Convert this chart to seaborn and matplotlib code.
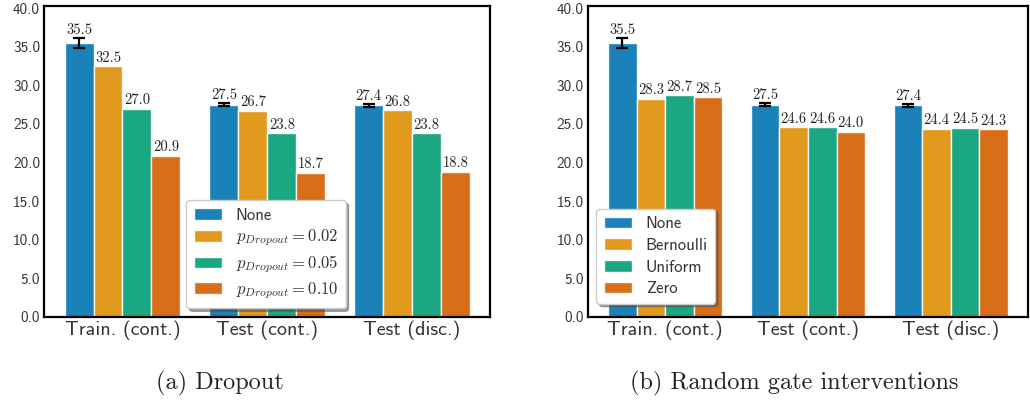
import matplotlib
matplotlib.use("Agg")
import matplotlib.pyplot as plt
import seaborn as sns
import pandas as pd
import numpy as np

# Evaluation splits
categories = ["Train. (cont.)", "Test (cont.)", "Test (disc.)"]

# (a) Dropout
dropout_labels = ["None", r"$p_{Dropout} = 0.02$", r"$p_{Dropout} = 0.05$", r"$p_{Dropout} = 0.10$"]
dropout_none = [35.5, 27.5, 27.4]
dropout_002 = [32.5, 26.7, 26.8]
dropout_005 = [27.0, 23.8, 23.8]
dropout_010 = [20.9, 18.7, 18.8]

# (b) Random gate interventions
gate_labels = ["None", "Bernoulli", "Uniform", "Zero"]
gate_none = [35.5, 27.5, 27.4]
gate_bernoulli = [28.3, 24.6, 24.4]
gate_uniform = [28.7, 24.6, 24.5]
gate_zero = [28.5, 24.0, 24.3]

# Spread of the baseline ("None") runs
none_err = [0.7, 0.2, 0.2]

yticks = [0, 5, 10, 15, 20, 25, 30, 35, 40]

sns.set_theme(style="white")
plt.rcParams["mathtext.fontset"] = "cm"
plt.rcParams["axes.unicode_minus"] = False

SANS = "cmss10"
SERIF = "cmr10"


def long_frame(labels, series):
    rows = []
    for lab, vals in zip(labels, series):
        for cat, v in zip(categories, vals):
            rows.append({"split": cat, "method": lab, "value": v})
    return pd.DataFrame(rows)


def draw(ax, labels, series, legend_anchor, spacing):
    df = long_frame(labels, series)
    sns.barplot(data=df, x="split", y="value", hue="method", order=categories,
                hue_order=labels, palette="colorblind", saturation=1.0, alpha=0.9,
                errorbar=None, edgecolor="white", linewidth=1.0, ax=ax)
    bars = [c for c in ax.containers if hasattr(c, "patches")]
    # Error bars on the baseline bars
    base = bars[0]
    centers = [p.get_x() + p.get_width() / 2 for p in base.patches]
    heights = [p.get_height() for p in base.patches]
    ax.errorbar(centers, heights, yerr=none_err, fmt="none", ecolor="black",
                elinewidth=1.6, capsize=4, capthick=1.6, zorder=5)
    # Baseline labels sit above the error caps
    for x, h, e in zip(centers, heights, none_err):
        ax.annotate(f"{h:.1f}", (x, h + e), xytext=(0, 0.5), textcoords="offset points",
                    ha="center", va="bottom", fontsize=10.5, fontfamily=SERIF,
                    color="#222222")
    for cont in bars[1:]:
        ax.bar_label(cont, fmt="%.1f", padding=1, fontsize=10.5,
                     fontfamily=SERIF, color="#222222")
    ax.set_ylim(0, 40.3)
    ax.set_yticks(yticks)
    ax.set_yticklabels([f"{t:.1f}" for t in yticks], fontfamily=SANS,
                       fontsize=11, color="#333333")
    ax.set_xticks(range(len(categories)))
    ax.set_xticklabels(categories, fontfamily=SANS, fontsize=14.5, color="#333333")
    ax.tick_params(axis="both", length=0, pad=3)
    ax.set_xlabel("")
    ax.set_ylabel("")
    for s in ax.spines.values():
        s.set_visible(True)
        s.set_color("black")
        s.set_linewidth(1.6)
    leg = ax.legend(loc="lower left", bbox_to_anchor=legend_anchor, frameon=True,
                    fancybox=True, shadow=True, handlelength=1.7,
                    handleheight=0.7, borderpad=0.45, labelspacing=spacing,
                    prop={"family": SANS, "size": 12})
    leg.get_frame().set_edgecolor("#cccccc")
    for t in leg.get_texts():
        t.set_color("#333333")


fig = plt.figure(figsize=(10.3, 4.0), dpi=100)
ax1 = fig.add_axes([0.043, 0.208, 0.433, 0.777])
ax2 = fig.add_axes([0.571, 0.208, 0.427, 0.777])

draw(ax1, dropout_labels, [dropout_none, dropout_002, dropout_005, dropout_010],
     (0.3, 0.0), 0.3)
draw(ax2, gate_labels, [gate_none, gate_bernoulli, gate_uniform, gate_zero],
     (0.0, 0.015), 0.4)

fig.text(220 / 1030, 1 - 383 / 400, "(a) Dropout", ha="center", va="center",
         fontsize=17.5, fontfamily=SERIF, color="#222222")
fig.text(794 / 1030, 1 - 383 / 400, "(b) Random gate interventions", ha="center",
         va="center", fontsize=17.5, fontfamily=SERIF, color="#222222")

fig.savefig("out.png", dpi=100)
